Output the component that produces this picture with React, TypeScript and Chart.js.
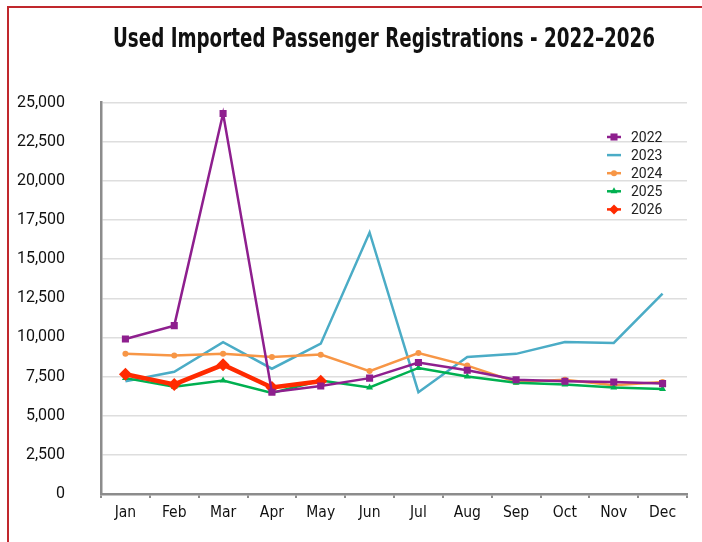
import React, { useEffect, useRef } from "react";
import { Chart, registerables } from "chart.js";

Chart.register(...registerables);

const months = ["Jan", "Feb", "Mar", "Apr", "May", "Jun", "Jul", "Aug", "Sep", "Oct", "Nov", "Dec"];
const y2022 = [9900, 10750, 24300, 6500, 6900, 7400, 8400, 7900, 7300, 7200, 7150, 7050];
const y2023 = [7200, 7800, 9700, 8000, 9600, 16700, 6500, 8750, 8950, 9700, 9650, 12800];
const y2024 = [8950, 8850, 8950, 8750, 8900, 7850, 9000, 8200, 7150, 7300, 6950, 7150];
const y2025 = [7400, 6850, 7250, 6450, 7250, 6800, 8050, 7500, 7100, 7000, 6800, 6700];
const y2026 = [7650, 7000, 8250, 6800, 7200];
const seriesLabels = ["2022", "2023", "2024", "2025", "2026"];
const titleText = "Used Imported Passenger Registrations - 2022\u20132026";

const COLORS = ["#8e1f8e", "#4bacc6", "#f79646", "#00b050", "#ff2a00"];
const NARROW = "'DejaVu Sans Condensed', 'Roboto', sans-serif";

function drawMarker(ctx: CanvasRenderingContext2D, style: string, r: number, x: number, y: number) {
  ctx.beginPath();
  if (style === "rect") {
    const s = r * Math.SQRT1_2;
    ctx.rect(x - s, y - s, 2 * s, 2 * s);
  } else if (style === "rectRot") {
    ctx.moveTo(x, y - r);
    ctx.lineTo(x + r, y);
    ctx.lineTo(x, y + r);
    ctx.lineTo(x - r, y);
    ctx.closePath();
  } else if (style === "triangle") {
    ctx.moveTo(x, y - r);
    ctx.lineTo(x + r * 0.87, y + r * 0.5);
    ctx.lineTo(x - r * 0.87, y + r * 0.5);
    ctx.closePath();
  } else {
    ctx.arc(x, y, r, 0, Math.PI * 2);
  }
  ctx.fill();
}

const legendPlugin = {
  id: "insideLegend",
  afterDatasetsDraw(chart: any) {
    const ctx = chart.ctx;
    const x0 = 614;
    const y0 = 137;
    const step = 18.1;
    ctx.save();
    chart.data.datasets.forEach((ds: any, i: number) => {
      const y = y0 + i * step;
      ctx.strokeStyle = ds.borderColor;
      ctx.fillStyle = ds.borderColor;
      ctx.lineWidth = 2.5;
      ctx.beginPath();
      ctx.moveTo(x0 - 7, y);
      ctx.lineTo(x0 + 7, y);
      ctx.stroke();
      if (ds.pointRadius > 0) {
        drawMarker(ctx, ds.pointStyle, Math.min(ds.pointRadius, 5), x0, y);
      }
      ctx.fillStyle = "#222";
      ctx.font = "14px Roboto";
      ctx.textBaseline = "middle";
      ctx.textAlign = "left";
      ctx.fillText(ds.label, 631, y + 1);
    });
    ctx.restore();
  },
};

const titlePlugin = {
  id: "condensedTitle",
  afterDraw(chart: any) {
    const ctx = chart.ctx;
    ctx.save();
    ctx.font = "bold 26.5px 'DejaVu Sans Condensed', sans-serif";
    ctx.fillStyle = "#111";
    ctx.textAlign = "center";
    ctx.textBaseline = "alphabetic";
    const w = ctx.measureText(titleText).width;
    const sx = 542 / w;
    ctx.translate(384, 46.7);
    ctx.scale(sx, 1);
    ctx.fillText(titleText, 0, 0);
    ctx.restore();
  },
};

export default function App() {
  const ref = useRef<HTMLCanvasElement>(null);
  useEffect(() => {
    document.body.style.margin = "0";
    const values = [y2022, y2023, y2024, y2025, y2026];
    const styles = [
      { pointStyle: "rect", pointRadius: 5, borderWidth: 2.5, order: 0 },
      { pointStyle: "circle", pointRadius: 0, borderWidth: 2.5, order: 4 },
      { pointStyle: "circle", pointRadius: 3, borderWidth: 2.5, order: 3 },
      { pointStyle: "triangle", pointRadius: 4, borderWidth: 2.5, order: 2 },
      { pointStyle: "rectRot", pointRadius: 6.5, borderWidth: 4.5, order: 1 },
    ];
    const chart = new Chart(ref.current!, {
      type: "line",
      data: {
        labels: months,
        datasets: values.map((v, i) => ({
          label: seriesLabels[i],
          data: v,
          borderColor: COLORS[i],
          backgroundColor: COLORS[i],
          pointBackgroundColor: COLORS[i],
          pointBorderColor: COLORS[i],
          pointBorderWidth: 0,
          tension: 0,
          ...styles[i],
        })),
      },
      options: {
        animation: false,
        responsive: false,
        devicePixelRatio: 1,
        layout: { padding: { top: 102.5, left: 0, right: 15, bottom: 0 } },
        plugins: {
          legend: { display: false },
          tooltip: { enabled: false },
          title: { display: false },
        },
        scales: {
          x: {
            offset: true,
            afterFit: (s: any) => { s.height = 48; },
            grid: { offset: true, drawOnChartArea: false, drawTicks: true, tickLength: 4, color: "#8c8c8c", lineWidth: 2 },
            border: { color: "#8c8c8c", width: 2.5 },
            ticks: { color: "#111", font: { family: NARROW, size: 15.5 }, padding: 6, maxRotation: 0 },
          },
          y: {
            min: 0,
            max: 25000,
            afterFit: (s: any) => { s.width = 101; },
            grid: { drawTicks: false, color: "#dedede", lineWidth: 1.5 },
            border: { color: "#8c8c8c", width: 2.5 },
            ticks: {
              stepSize: 2500,
              color: "#111",
              font: { family: "Roboto", size: 16 },
              padding: 36,
              callback: (v: any) => Number(v).toLocaleString("en-US"),
            },
          },
        },
      },
      plugins: [legendPlugin, titlePlugin],
    });
    return () => chart.destroy();
  }, []);
  return (
    <div style={{ position: "relative", width: 702, height: 542, background: "#fff", overflow: "hidden" }}>
      <canvas ref={ref} width={702} height={542} style={{ position: "absolute", left: 0, top: 0 }} />
      <div style={{ position: "absolute", left: 6.5, top: 6, right: -10, bottom: -10, borderLeft: "2.5px solid #c0282d", borderTop: "2.5px solid #c0282d", pointerEvents: "none" }} />
    </div>
  );
}
